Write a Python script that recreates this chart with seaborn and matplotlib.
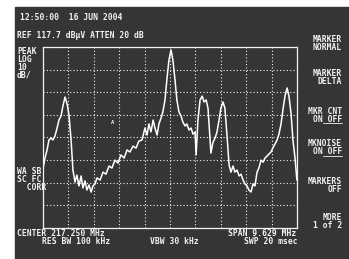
import numpy as np
import pandas as pd
import matplotlib
matplotlib.use("Agg")
import matplotlib.pyplot as plt
import seaborn as sns

# trace (MHz, dBuV)
freq_mhz = [212.44, 212.51, 212.59, 212.66, 212.74, 212.81, 212.89, 212.97, 213.04, 213.12,
            213.19, 213.27, 213.35, 213.42, 213.50, 213.57, 213.65, 213.72, 213.80, 213.88,
            213.95, 214.03, 214.10, 214.18, 214.26, 214.33, 214.41, 214.48, 214.60, 214.71,
            214.82, 214.94, 215.05, 215.16, 215.28, 215.39, 215.51, 215.62, 215.73, 215.85,
            215.96, 216.07, 216.19, 216.30, 216.38, 216.45, 216.53, 216.61, 216.68, 216.76,
            216.83, 216.91, 216.98, 217.06, 217.13, 217.21, 217.29, 217.36, 217.44, 217.51,
            217.59, 217.67, 217.74, 217.82, 217.89, 217.97, 218.05, 218.12, 218.20, 218.24,
            218.31, 218.39, 218.47, 218.54, 218.62, 218.69, 218.77, 218.80, 218.88, 218.96,
            219.03, 219.11, 219.18, 219.26, 219.33, 219.41, 219.49, 219.56, 219.64, 219.71,
            219.79, 219.87, 219.94, 220.02, 220.09, 220.17, 220.24, 220.32, 220.40, 220.47,
            220.55, 220.62, 220.70, 220.78, 220.85, 220.93, 221.00, 221.08, 221.15, 221.23,
            221.31, 221.38, 221.46, 221.53, 221.61, 221.69, 221.76, 221.84, 221.91, 221.99,
            222.06]
level_dbuv = [64.2, 68.6, 72.2, 76.6, 77.5, 76.6, 78.4, 81.9, 85.4, 87.2,
              91.6, 95.6, 92.5, 87.6, 76.6, 63.3, 58.0, 61.1, 56.3, 60.7,
              55.4, 58.5, 54.5, 56.7, 53.6, 56.3, 57.2, 59.8, 58.9, 62.4,
              61.5, 65.1, 64.2, 67.7, 66.4, 70.0, 68.6, 72.2, 71.3, 73.9,
              73.0, 76.1, 76.6, 81.9, 78.8, 83.7, 80.2, 85.4, 81.9, 78.8,
              83.7, 86.3, 89.0, 94.3, 103.1, 111.9, 116.4, 111.9, 103.1, 94.3,
              89.0, 87.2, 84.5, 82.8, 83.7, 81.0, 81.9, 79.2, 80.1, 70.0,
              85.4, 94.3, 96.0, 93.4, 94.3, 90.7, 76.6, 70.8, 75.6, 77.5,
              80.1, 85.4, 90.7, 93.4, 90.7, 78.8, 65.5, 62.4, 65.1, 62.4,
              63.3, 60.7, 61.5, 58.9, 57.2, 56.3, 54.5, 53.6, 57.2, 56.3,
              62.4, 64.2, 67.7, 66.8, 68.6, 69.5, 70.4, 71.3, 73.1, 74.8,
              76.6, 79.2, 83.7, 89.9, 96.0, 99.6, 96.0, 88.1, 76.6, 68.6,
              58.9]

center_mhz = 217.250
span_mhz = 9.629
ref_level = 117.7
db_per_div = 10

softkeys = [("MARKER", "NORMAL"), ("MARKER", "DELTA"), ("MKR CNT", "ON OFF"),
            ("MKNOISE", "ON OFF"), ("MARKERS", "OFF"), ("MORE", "1 of 2")]

df = pd.DataFrame({"freq": freq_mhz, "level": level_dbuv})

W, H = 349, 259
screen = "#353535"
ink = "#f2f2f2"

sns.set_style("dark")
plt.rcParams["font.family"] = ["DejaVu Sans Mono", "DejaVu Sans"]

fig = plt.figure(figsize=(W / 100, H / 100), dpi=100)
fig.patch.set_facecolor("white")

# dark CRT area
fig.patches.append(plt.Rectangle((15 / W, 0), 1 - 15 / W, 1 - 7 / H,
                                 transform=fig.transFigure, color=screen, zorder=-5))


def px(x, y):
    return x / W, 1 - y / H


ax = fig.add_axes([43 / W, 1 - 228 / H, (297 - 43) / W, (228 - 47) / H])
ax.set_zorder(3)
ax.set_facecolor(screen)

start = center_mhz - span_mhz / 2
ax.set_xlim(start, start + span_mhz)
ax.set_ylim(ref_level - 8 * db_per_div, ref_level)
ax.set_xticks(np.linspace(start, start + span_mhz, 11))
ax.set_yticks(np.linspace(ref_level - 8 * db_per_div, ref_level, 9))
ax.grid(True, color=ink, linestyle=(0, (1, 2)), linewidth=0.8)
ax.tick_params(length=0, labelbottom=False, labelleft=False)
for s in ax.spines.values():
    s.set_color(ink)
    s.set_linewidth(0.9)
    s.set_linestyle((0, (1, 1)))
ax.spines["left"].set_linestyle("-")

sns.lineplot(data=df, x="freq", y="level", ax=ax, color="white", linewidth=1.1)
ax.set_xlabel("")
ax.set_ylabel("")

fs = 5.8
kw = dict(color=ink, fontsize=fs, fontweight="bold", va="center")

fig.text(*px(20, 18), "12:50:00  16 JUN 2004", **kw)
fig.text(*px(17, 36), "REF 117.7 dB\u03bcV ATTEN 20 dB", **kw)
for i, s in enumerate(["PEAK", "LOG", "10", "dB/"]):
    fig.text(*px(17, 52 + i * 7.7), s, **kw)
for i, s in enumerate(["WA SB", "SC FC", "  CORR"]):
    fig.text(*px(17, 172 + i * 8), s, **kw)
fig.text(*px(113, 123), "A", color=ink, fontsize=4, fontweight="bold", ha="center", va="center", zorder=5)

fig.text(*px(17, 233), "CENTER 217.250 MHz", **kw)
fig.text(*px(42, 241), "RES BW 100 kHz", **kw)
fig.text(*px(150, 241), "VBW 30 kHz", **kw)
fig.text(*px(296, 233), "SPAN 9.629 MHz", ha="right", **kw)
fig.text(*px(298, 241), "SWP 20 msec", ha="right", **kw)

key_y = [44, 77, 115, 148, 186, 222]
for (top, bottom), y in zip(softkeys, key_y):
    fig.text(*px(342, y - 4), top, ha="right", **kw)
    fig.text(*px(342, y + 4), bottom, ha="right", **kw)
    if bottom == "ON OFF":
        fig.add_artist(plt.Line2D([323 / W, 342 / W], [1 - (y + 8) / H] * 2,
                                  color=ink, linewidth=0.6))

fig.savefig("out.png", dpi=100, facecolor=fig.get_facecolor())
